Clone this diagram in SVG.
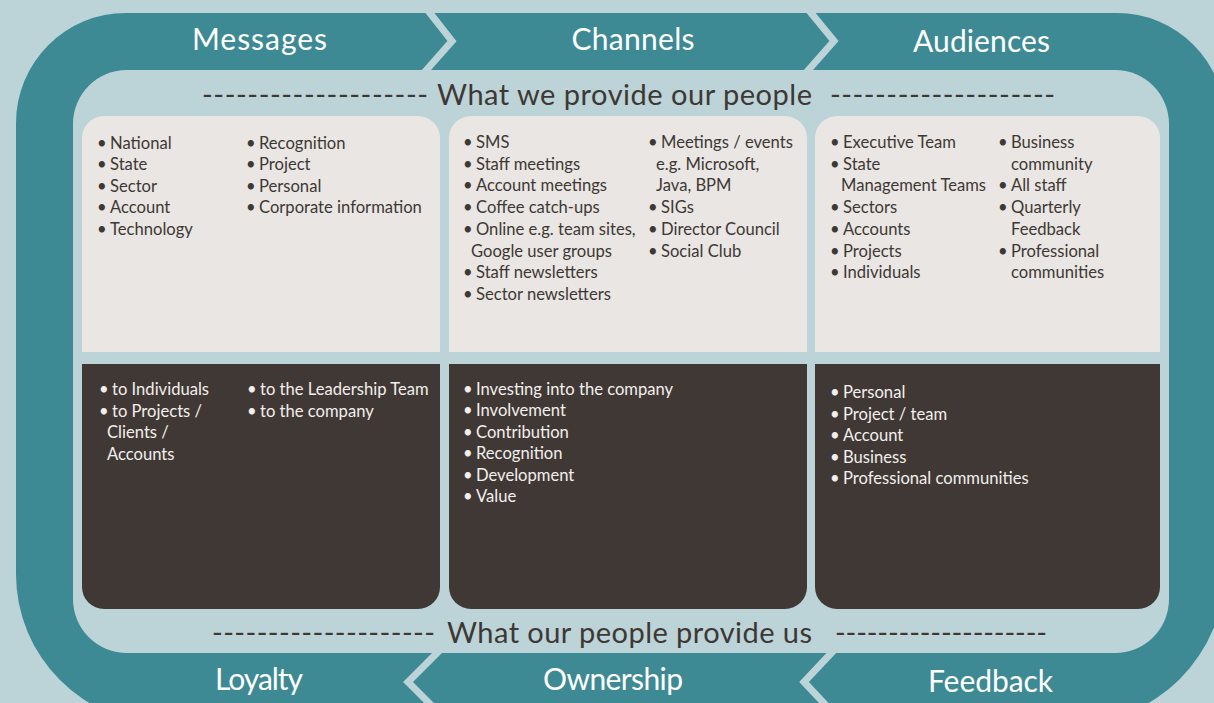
<svg xmlns="http://www.w3.org/2000/svg" width="1214" height="703" viewBox="0 0 1214 703">
  <style>
    .band-label { font-family: Lato, "Open Sans", sans-serif; font-size: 30px; fill: #ffffff; text-anchor: middle; }
    .heading { font-family: Lato, "Open Sans", sans-serif; font-size: 29px; fill: #3e3834; }
    .item { font-family: Lato, "Open Sans", sans-serif; font-size: 16.6px; fill: #3e3834; }
    .item-light { font-family: Lato, "Open Sans", sans-serif; font-size: 16.6px; fill: #f2efec; }
    .card-light { fill: #e9e6e3; }
    .card-dark { fill: #403834; }
    .chevron { fill: none; stroke: #bcd3d8; stroke-width: 7; stroke-linejoin: miter; }
  </style>

  <!-- page background -->
  <rect x="0" y="0" width="1214" height="703" fill="#bcd3d8"/>

  <!-- teal loop band -->
  <g id="band">
    <path d="M126,13 H1117 A108,108 0 0 1 1225,121 V570 A154,154 0 0 1 1071,724 H166 A150,150 0 0 1 16,574 V123 A110,110 0 0 1 126,13 Z" fill="#3d8a94"/>
    <rect x="73" y="70" width="1096" height="583" rx="54" ry="54" fill="#bcd3d8"/>
  </g>

  <!-- chevron dividers in the band -->
  <g id="connectors">
    <polyline class="chevron" points="426,8 452,41 422,75"/>
    <polyline class="chevron" points="807,8 834,41 804,75"/>
    <polyline class="chevron" points="442,648 408,682 442,716"/>
    <polyline class="chevron" points="836,648 804,682 836,716"/>
  </g>

  <!-- band labels -->
  <g id="messages"><text class="band-label" x="259.5" y="50" textLength="135">Messages</text></g>
  <g id="channels"><text class="band-label" x="633" y="50" textLength="123">Channels</text></g>
  <g id="audiences"><text class="band-label" x="981.5" y="52" textLength="137">Audiences</text></g>
  <g id="loyalty"><text class="band-label" x="259" y="690" textLength="88">Loyalty</text></g>
  <g id="ownership"><text class="band-label" x="613" y="690" textLength="140">Ownership</text></g>
  <g id="feedback"><text class="band-label" x="990.5" y="692" textLength="125">Feedback</text></g>

  <!-- section headings -->
  <g id="heading-provide">
    <text class="heading" x="202" y="105" textLength="226" lengthAdjust="spacing">--------------------</text>
    <text class="heading" x="437" y="105" textLength="375">What we provide our people</text>
    <text class="heading" x="830" y="105" textLength="225" lengthAdjust="spacing">--------------------</text>
  </g>
  <g id="heading-receive">
    <text class="heading" x="212" y="643" textLength="223" lengthAdjust="spacing">--------------------</text>
    <text class="heading" x="447" y="643" textLength="365">What our people provide us</text>
    <text class="heading" x="835" y="643" textLength="212" lengthAdjust="spacing">--------------------</text>
  </g>

  <!-- Messages: what we provide -->
  <g id="messages-provide">
    <path class="card-light" d="M82,352 V138 A22,22 0 0 1 104,116 H418 A22,22 0 0 1 440,138 V352 Z"/>
    <text class="item" x="97" y="149">•<tspan x="110">National</tspan></text>
    <text class="item" x="97" y="170.4">•<tspan x="110">State</tspan></text>
    <text class="item" x="97" y="191.8">•<tspan x="110">Sector</tspan></text>
    <text class="item" x="97" y="213.2">•<tspan x="110">Account</tspan></text>
    <text class="item" x="97" y="234.6">•<tspan x="110">Technology</tspan></text>
    <text class="item" x="246" y="149">•<tspan x="259">Recognition</tspan></text>
    <text class="item" x="246" y="170.4">•<tspan x="259">Project</tspan></text>
    <text class="item" x="246" y="191.8">•<tspan x="259">Personal</tspan></text>
    <text class="item" x="246" y="213.2">•<tspan x="259">Corporate information</tspan></text>
  </g>

  <!-- Channels: what we provide -->
  <g id="channels-provide">
    <path class="card-light" d="M449,352 V138 A22,22 0 0 1 471,116 H785 A22,22 0 0 1 807,138 V352 Z"/>
    <text class="item" x="463" y="148">•<tspan x="476">SMS</tspan></text>
    <text class="item" x="463" y="169.7">•<tspan x="476">Staff meetings</tspan></text>
    <text class="item" x="463" y="191.4">•<tspan x="476">Account meetings</tspan></text>
    <text class="item" x="463" y="213.1">•<tspan x="476">Coffee catch-ups</tspan></text>
    <text class="item" x="463" y="234.8">•<tspan x="476">Online e.g. team sites,</tspan></text>
    <text class="item" x="471" y="256.5">Google user groups</text>
    <text class="item" x="463" y="278.2">•<tspan x="476">Staff newsletters</tspan></text>
    <text class="item" x="463" y="299.9">•<tspan x="476">Sector newsletters</tspan></text>
    <text class="item" x="648" y="148">•<tspan x="661">Meetings / events</tspan></text>
    <text class="item" x="656" y="169.7">e.g. Microsoft,</text>
    <text class="item" x="656" y="191.4">Java, BPM</text>
    <text class="item" x="648" y="213.1">•<tspan x="661">SIGs</tspan></text>
    <text class="item" x="648" y="234.8">•<tspan x="661">Director Council</tspan></text>
    <text class="item" x="648" y="256.5">•<tspan x="661">Social Club</tspan></text>
  </g>

  <!-- Audiences: what we provide -->
  <g id="audiences-provide">
    <path class="card-light" d="M815,352 V138 A22,22 0 0 1 837,116 H1138 A22,22 0 0 1 1160,138 V352 Z"/>
    <text class="item" x="830" y="148">•<tspan x="843">Executive Team</tspan></text>
    <text class="item" x="830" y="169.7">•<tspan x="843">State</tspan></text>
    <text class="item" x="841" y="191.4">Management Teams</text>
    <text class="item" x="830" y="213.1">•<tspan x="843">Sectors</tspan></text>
    <text class="item" x="830" y="234.8">•<tspan x="843">Accounts</tspan></text>
    <text class="item" x="830" y="256.5">•<tspan x="843">Projects</tspan></text>
    <text class="item" x="830" y="278.2">•<tspan x="843">Individuals</tspan></text>
    <text class="item" x="998" y="148">•<tspan x="1011">Business</tspan></text>
    <text class="item" x="1011" y="169.7">community</text>
    <text class="item" x="998" y="191.4">•<tspan x="1011">All staff</tspan></text>
    <text class="item" x="998" y="213.1">•<tspan x="1011">Quarterly</tspan></text>
    <text class="item" x="1011" y="234.8">Feedback</text>
    <text class="item" x="998" y="256.5">•<tspan x="1011">Professional</tspan></text>
    <text class="item" x="1011" y="278.2">communities</text>
  </g>

  <!-- Loyalty: what our people provide -->
  <g id="loyalty-receive">
    <path class="card-dark" d="M82,364 H440 V587 A22,22 0 0 1 418,609 H104 A22,22 0 0 1 82,587 Z"/>
    <text class="item-light" x="99" y="395">•<tspan x="112">to Individuals</tspan></text>
    <text class="item-light" x="99" y="416.5">•<tspan x="112">to Projects /</tspan></text>
    <text class="item-light" x="107" y="438">Clients /</text>
    <text class="item-light" x="107" y="459.5">Accounts</text>
    <text class="item-light" x="247" y="395">•<tspan x="260">to the Leadership Team</tspan></text>
    <text class="item-light" x="247" y="416.5">•<tspan x="260">to the company</tspan></text>
  </g>

  <!-- Ownership: what our people provide -->
  <g id="ownership-receive">
    <path class="card-dark" d="M449,364 H807 V587 A22,22 0 0 1 785,609 H471 A22,22 0 0 1 449,587 Z"/>
    <text class="item-light" x="463" y="395">•<tspan x="476">Investing into the company</tspan></text>
    <text class="item-light" x="463" y="416.4">•<tspan x="476">Involvement</tspan></text>
    <text class="item-light" x="463" y="437.8">•<tspan x="476">Contribution</tspan></text>
    <text class="item-light" x="463" y="459.2">•<tspan x="476">Recognition</tspan></text>
    <text class="item-light" x="463" y="480.6">•<tspan x="476">Development</tspan></text>
    <text class="item-light" x="463" y="502">•<tspan x="476">Value</tspan></text>
  </g>

  <!-- Feedback: what our people provide -->
  <g id="feedback-receive">
    <path class="card-dark" d="M815,364 H1160 V587 A22,22 0 0 1 1138,609 H837 A22,22 0 0 1 815,587 Z"/>
    <text class="item-light" x="830" y="398">•<tspan x="843">Personal</tspan></text>
    <text class="item-light" x="830" y="419.5">•<tspan x="843">Project / team</tspan></text>
    <text class="item-light" x="830" y="441">•<tspan x="843">Account</tspan></text>
    <text class="item-light" x="830" y="462.5">•<tspan x="843">Business</tspan></text>
    <text class="item-light" x="830" y="484">•<tspan x="843">Professional communities</tspan></text>
  </g>
</svg>
